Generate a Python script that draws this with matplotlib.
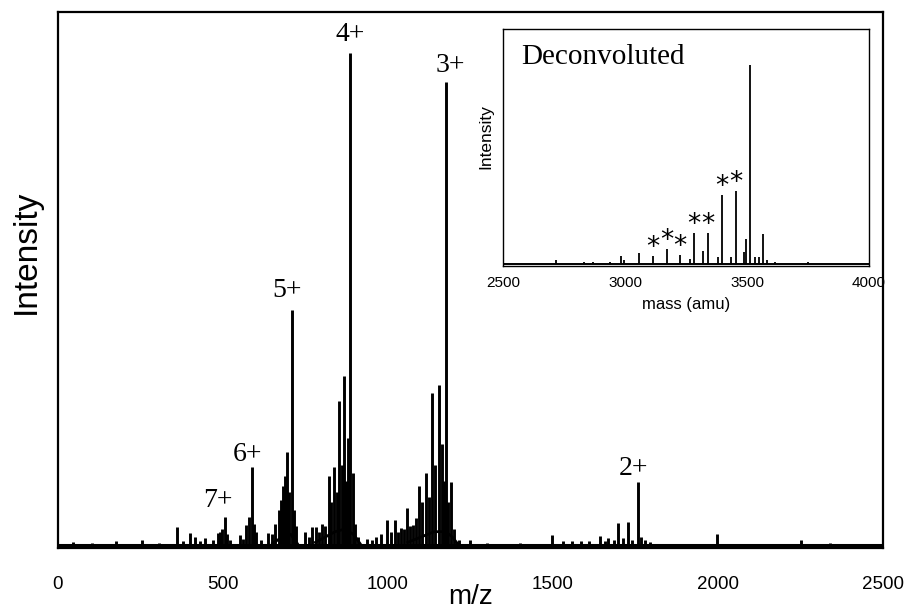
import matplotlib
matplotlib.use("Agg")
import matplotlib.pyplot as plt

# ---------------------------------------------------------------------------
# ESI spectrum (m/z, relative intensity), peak-picked centroids
# ---------------------------------------------------------------------------
mz_peaks = [
    45, 103, 176, 255, 306, 361, 380, 400, 415, 430, 445, 470, 485, 491, 498,
    506, 512, 520, 552, 562, 570, 579, 588, 594, 600, 615, 636, 648, 658, 670,
    676, 682, 688, 694, 700, 709, 715, 722, 748, 760, 770, 782, 790, 800, 810,
    821, 828, 836, 844, 852, 860, 867, 874, 880, 885, 894, 900, 910,
    935, 952, 965, 980, 997, 1008, 1021, 1030, 1039, 1048, 1058, 1066, 1076,
    1085, 1094, 1104, 1115, 1124, 1133, 1142, 1155, 1164, 1170, 1176, 1183,
    1191, 1200, 1215, 1248, 1300, 1400,
    1497, 1530, 1558, 1585, 1609, 1642, 1658, 1667, 1684, 1697, 1712, 1727,
    1740, 1758, 1768, 1779, 1795, 1997, 2252, 2339,
]
int_peaks = [
    0.5, 0.4, 0.8, 1.0, 0.4, 3.3, 0.8, 2.2, 1.5, 0.8, 1.3, 1.0, 2.3, 2.5, 3.0,
    5.3, 2.0, 1.0, 1.9, 1.2, 3.8, 5.3, 14.6, 4.0, 2.4, 1.0, 2.2, 2.0, 4.0, 6.6,
    8.5, 11.0, 13.0, 17.5, 10.0, 44.0, 6.6, 3.5, 2.4, 1.5, 3.4, 3.4, 2.5, 4.0, 3.5,
    13.0, 8.0, 14.6, 10.0, 27.0, 15.0, 31.7, 12.0, 20.0, 92.3, 13.5, 4.0, 1.5,
    1.2, 1.0, 1.5, 2.0, 4.7, 2.5, 4.7, 2.5, 3.2, 3.0, 6.9, 3.5, 3.8,
    5.0, 11.1, 8.0, 13.5, 9.0, 28.5, 15.0, 30.0, 19.0, 12.0, 86.9, 8.0,
    11.8, 3.0, 1.0, 1.0, 0.4, 0.4,
    1.9, 0.8, 0.8, 0.8, 0.8, 1.7, 0.8, 1.3, 1.0, 4.1, 1.3, 4.3,
    1.0, 11.8, 1.5, 1.0, 0.5, 2.0, 1.0, 0.3,
]

# unresolved background under the charge-state clusters
hump5_mz = [650, 680, 705, 725]
hump5_int = [0.3, 1.5, 2.0, 0.3]
hump4_mz = [780, 810, 840, 870, 895, 915]
hump4_int = [0.5, 1.5, 2.5, 3.0, 2.0, 0.3]
hump3_mz = [1060, 1100, 1140, 1175, 1195, 1210]
hump3_int = [0.5, 1.5, 2.5, 2.5, 1.5, 0.3]

# charge-state labels
charge_labels = ["7+", "6+", "5+", "4+", "3+", "2+"]
charge_mz = [506, 588, 709, 885, 1176, 1758]
charge_int = [5.3, 14.6, 44.0, 92.3, 86.9, 11.8]
charge_dx = [-7, -5, -5, 0, 4, -5]
charge_gap = [10, 6, 13, 12, 10, 7]

# ---------------------------------------------------------------------------
# Deconvoluted (zero-charge) spectrum
# ---------------------------------------------------------------------------
mass_peaks = [
    2717, 2832, 2869, 2938, 2984, 2996, 3057, 3115, 3172, 3225, 3266, 3283,
    3320, 3340, 3381, 3398, 3434, 3455, 3488, 3496, 3512, 3533, 3549, 3566,
    3582, 3615, 3750,
]
mass_int = [
    1.5, 1.0, 0.8, 0.8, 3.4, 1.5, 4.7, 3.4, 6.4, 3.8, 2.0, 13.2,
    5.5, 13.2, 3.0, 29.4, 3.0, 31.0, 5.0, 10.6, 84.7, 3.0, 3.0, 12.8,
    1.5, 0.8, 0.8,
]
# adduct series marked with an asterisk
star_mass = [3115, 3172, 3225, 3283, 3340, 3398, 3455]
star_int = [3.4, 6.4, 3.8, 13.2, 13.2, 29.4, 31.0]

sans = ["Liberation Sans", "DejaVu Sans"]
serif = ["Liberation Serif", "DejaVu Serif"]

fig = plt.figure(figsize=(9.09, 6.12), dpi=100)
ax = fig.add_axes([0.0638, 0.1046, 0.9076, 0.8758])

ax.plot([0, 2500], [0, 0], color="black", lw=2.2, solid_capstyle="butt")
for hx, hy in [(hump5_mz, hump5_int), (hump4_mz, hump4_int), (hump3_mz, hump3_int)]:
    ax.plot(hx, hy, color="black", lw=2.0)
ax.vlines(mz_peaks, 0, int_peaks, color="black", lw=2.1)

for lab, x, y, dx, gap in zip(charge_labels, charge_mz, charge_int, charge_dx, charge_gap):
    ax.annotate(lab, (x, y), xytext=(dx, gap), textcoords="offset pixels",
                ha="center", va="baseline", fontsize=20, family=serif)

ax.set_xlim(0, 2500)
ax.set_ylim(-0.56, 100)
ax.set_xticks([0, 500, 1000, 1500, 2000, 2500])
ax.set_yticks([])
ax.tick_params(axis="x", length=0, pad=20, labelsize=13.5)
for t in ax.get_xticklabels():
    t.set_family(sans)
ax.set_xlabel("m/z", fontsize=20, family=sans)
ax.xaxis.set_label_coords(0.5, -0.068)
ax.set_ylabel("Intensity", fontsize=24, family=sans)
ax.yaxis.set_label_coords(-0.019, 0.552)
for sp in ax.spines.values():
    sp.set_linewidth(1.6)

# inset with the deconvoluted masses
ins = fig.add_axes([0.5534, 0.5654, 0.4026, 0.3872])
ins.plot([2500, 4000], [0, 0], color="black", lw=1.4, solid_capstyle="butt")
ins.vlines(mass_peaks, 0, mass_int, color="black", lw=1.3)
for x, y in zip(star_mass, star_int):
    ins.annotate("*", (x, y), xytext=(0, -5), textcoords="offset pixels",
                 ha="center", va="bottom", fontsize=19, family=["DejaVu Sans"])
ins.text(0.05, 0.88, "Deconvoluted", transform=ins.transAxes, fontsize=21,
         family=serif, ha="left", va="center")
ins.set_xlim(2500, 4000)
ins.set_ylim(-0.85, 100)
ins.set_xticks([2500, 3000, 3500, 4000])
ins.set_yticks([])
ins.tick_params(axis="x", length=0, pad=7, labelsize=11)
for t in ins.get_xticklabels():
    t.set_family(sans)
ins.set_xlabel("mass (amu)", fontsize=12, family=sans)
ins.xaxis.set_label_coords(0.5, -0.13)
ins.set_ylabel("Intensity", fontsize=12.5, family=sans)
ins.yaxis.set_label_coords(-0.027, 0.545)
for sp in ins.spines.values():
    sp.set_linewidth(1.0)

fig.savefig("out.png", dpi=100)
